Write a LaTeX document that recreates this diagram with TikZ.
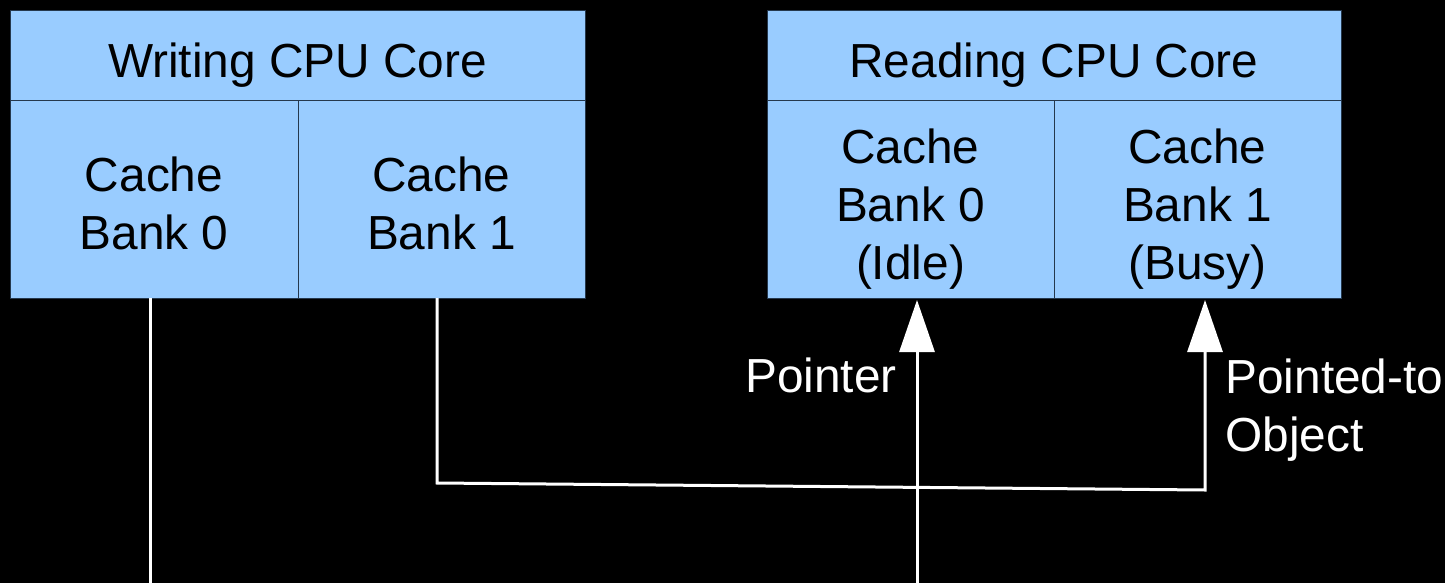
\documentclass[tikz,border=0pt]{standalone}
\usepackage{fontspec}
\setmainfont{Liberation Sans}
\usetikzlibrary{arrows.meta}
\definecolor{cellfill}{HTML}{99CCFF}
\definecolor{cellline}{HTML}{25384D}
\tikzset{
  cell/.style={draw=cellline, line width=0.5pt, fill=cellfill, rectangle,
    inner sep=0pt, outer sep=0pt, anchor=north west},
  celltext/.style={align=center, inner sep=0pt, text=black,
    font=\fontsize{23.9}{29}\selectfont},
  labeltext/.style={inner sep=0pt, text=white,
    font=\fontsize{23.9}{29}\selectfont},
  wire/.style={draw=white, line width=1.5pt},
  wirearrow/.style={wire, -{Triangle[length=26pt,width=17.5pt]}},
}
\begin{document}
\begin{tikzpicture}[x=0.5pt, y=-0.5pt]
  % canvas
  \fill[black] (0,0) rectangle (1445,583);
  \useasboundingbox (0,0) rectangle (1445,583);

  % writing core
  \node[cell, minimum width=287.5pt, minimum height=45pt] (wcore) at (10,11) {};
  \node[cell, minimum width=144pt, minimum height=98.5pt] (wb0) at (10,101) {};
  \node[cell, minimum width=143.5pt, minimum height=98.5pt] (wb1) at (298,101) {};
  \node[celltext, anchor=base] (wcoret) at ([yshift=-11pt]wcore.center) {Writing CPU Core};
  \node[celltext] (wb0t) at ([yshift=-2.1pt]wb0.center) {Cache\\Bank 0};
  \node[celltext] (wb1t) at ([yshift=-2.1pt]wb1.center) {Cache\\Bank 1};

  % reading core
  \node[cell, minimum width=287pt, minimum height=45pt] (rcore) at (767,11) {};
  \node[cell, minimum width=143.5pt, minimum height=98.5pt] (rb0) at (767,101) {};
  \node[cell, minimum width=143.5pt, minimum height=98.5pt] (rb1) at (1054,101) {};
  \node[celltext, anchor=base] (rcoret) at ([yshift=-11pt]rcore.center) {Reading CPU Core};
  \node[celltext] (rb0t) at ([yshift=-5pt]rb0.center) {Cache\\Bank 0\\(Idle)};
  \node[celltext] (rb1t) at ([yshift=-5pt]rb1.center) {Cache\\Bank 1\\(Busy)};

  % wire ends and bends
  \coordinate (w0end) at (150,583);
  \coordinate (w1bend) at (437,483);
  \coordinate (r1bend) at (1205,490);
  \coordinate (r0start) at (917,583);

  % connectors
  \draw[wire] (wb0.south -| w0end) -- (w0end);
  \draw[wirearrow, line join=miter] (wb1.south -| w1bend) -- (w1bend) -- (r1bend)
    -- ([yshift=-1pt]rb1.south -| r1bend);
  \draw[wirearrow] (r0start) -- ([yshift=-1pt]rb0.south -| r0start);

  % labels
  \node[labeltext, anchor=base east] (lptr) at (897,392) {Pointer};
  \node[labeltext, anchor=north west, align=left] (lobj) at (1225,358) {Pointed-to\\Object};
\end{tikzpicture}
\end{document}
